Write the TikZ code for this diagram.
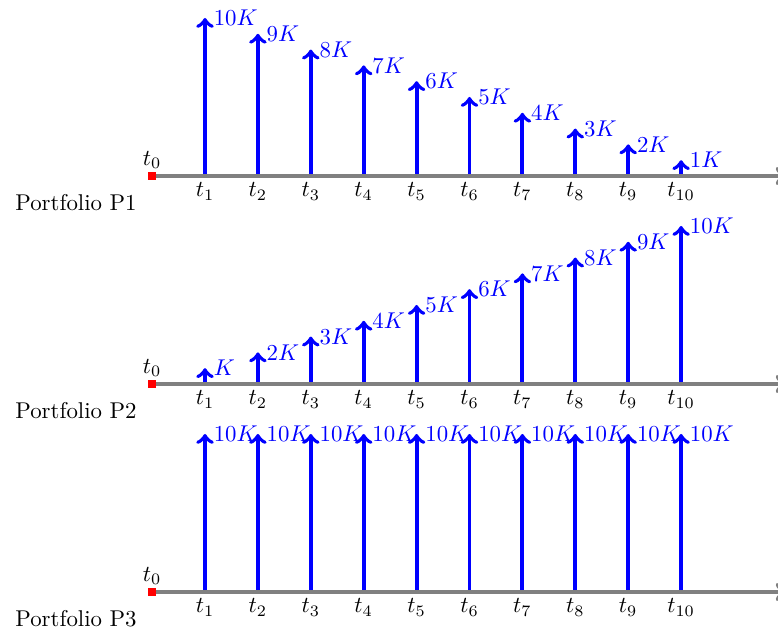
\documentclass[tikz,border=0pt]{standalone}
\begin{document}
\begin{tikzpicture}[x=0.438pt,y=-0.438pt,
  axisline/.style={gray, line width=1.8pt, ->},
  flow/.style={blue, line width=1.7pt, ->},
  amt/.style={blue, anchor=west, inner sep=3pt},
  tlab/.style={anchor=north, inner sep=1pt},
  startbox/.style={fill=red, minimum size=3.2pt, inner sep=0pt},
  plabel/.style={inner sep=0pt},
]
\useasboundingbox (0,0) rectangle (778,629);
\foreach \r/\ay in {1/176,2/384,3/592}{
  \foreach \i in {1,...,10}{
    \pgfmathsetmacro\xx{205+52.9*(\i-1)}
    \ifcase\r\or \pgfmathtruncatemacro\k{11-\i}\or \pgfmathtruncatemacro\k{\i}\or \def\k{10}\fi
    \edef\lab{\k}
    \ifnum\r=2 \ifnum\i=1 \def\lab{}\fi\fi
    \coordinate (b\r-\i) at (\xx,\ay);
    \coordinate (h\r-\i) at (\xx,\ay-15.8*\k);
    \draw[flow] (b\r-\i) -- (h\r-\i) node[amt] (a\r-\i) {$\lab K$};
    \node[tlab] (t\r-\i) at (\xx,\ay+4) {$t_{\i}$};
  }
  \node[startbox] (s\r) at (152,\ay) {};
  \coordinate (e\r) at (786,\ay);
  \draw[axisline] (s\r.east) -- (e\r);
  \node[startbox] at (152,\ay) {};
  \node (z\r) at (152,\ay-16) {$t_0$};
  \node[plabel] (p\r) at (76,\ay+27) {Portfolio P\r};
}
\end{tikzpicture}
\end{document}
